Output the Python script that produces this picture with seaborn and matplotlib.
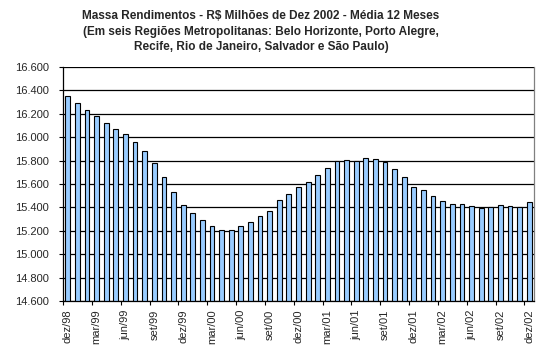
import numpy as np
import pandas as pd
import matplotlib
matplotlib.use('Agg')
import matplotlib.pyplot as plt
from matplotlib.ticker import FuncFormatter
import seaborn as sns

MESES = ['jan', 'fev', 'mar', 'abr', 'mai', 'jun', 'jul', 'ago', 'set', 'out', 'nov', 'dez']
periodos = ['dez/98'] + [f'{m}/{a:02d}' for a in (99, 0, 1, 2) for m in MESES]

massa = [16352, 16292, 16232, 16183, 16123, 16072, 16028, 15960, 15884, 15780,
         15662, 15531, 15420, 15349, 15289, 15240, 15206, 15206, 15240, 15274,
         15323, 15369, 15460, 15513, 15572, 15616, 15677, 15738, 15797, 15806,
         15797, 15823, 15814, 15791, 15730, 15660, 15572, 15547, 15496, 15451,
         15426, 15426, 15409, 15391, 15400, 15417, 15409, 15400, 15443]

titulo = ('Massa Rendimentos - R$ Milhões de Dez 2002 - Média 12 Meses\n'
          '(Em seis Regiões Metropolitanas: Belo Horizonte, Porto Alegre,\n'
          'Recife, Rio de Janeiro, Salvador e São Paulo)')

df = pd.DataFrame({'periodo': periodos, 'massa': massa})

sns.set_style('white')
plt.rcParams['font.family'] = ['Liberation Sans', 'DejaVu Sans']

fig = plt.figure(figsize=(5.5, 3.57), dpi=100)
ax = fig.add_axes([63 / 550, 1 - 301 / 357, (534 - 63) / 550, (301 - 67) / 357])

sns.barplot(data=df, x='periodo', y='massa', color='#99CCFF', saturation=1,
            edgecolor='black', linewidth=0.8, width=0.5, ax=ax)

ax.set_ylim(14600, 16600)
ax.set_xlim(-0.5, len(periodos) - 0.5)
ax.set_yticks(np.arange(14600, 16601, 200))
ax.yaxis.set_major_formatter(FuncFormatter(lambda v, p: f'{v:,.0f}'.replace(',', '.')))
ax.grid(axis='y', color='black', linewidth=0.9)
ax.set_axisbelow(True)

# rótulos a cada 3 meses, marcas entre categorias
ax.set_xticks(range(0, len(periodos), 3))
ax.set_xticklabels(periodos[::3], rotation=90, fontsize=8)
ax.set_xticks(np.arange(-0.5, len(periodos), 3), minor=True)
ax.tick_params(axis='x', which='major', length=0, pad=6)
ax.tick_params(axis='x', which='minor', length=3, width=0.8, color='black', direction='out')
ax.tick_params(axis='y', length=3, width=0.8, color='black', direction='out', pad=7, labelsize=8)
ax.tick_params(left=True, bottom=True, which='both')

ax.set_xlabel('')
ax.set_ylabel('')
for s in ['left', 'bottom']:
    ax.spines[s].set_color('black')
    ax.spines[s].set_linewidth(0.9)
ax.spines['top'].set_visible(False)
ax.spines['right'].set_color('#808080')
ax.spines['right'].set_linewidth(0.9)

fig.text(261 / 550, 1 - 10 / 357, titulo, ha='center', va='top', fontsize=8.5,
         fontweight='bold', linespacing=1.4)

fig.savefig('out.png', dpi=100)
